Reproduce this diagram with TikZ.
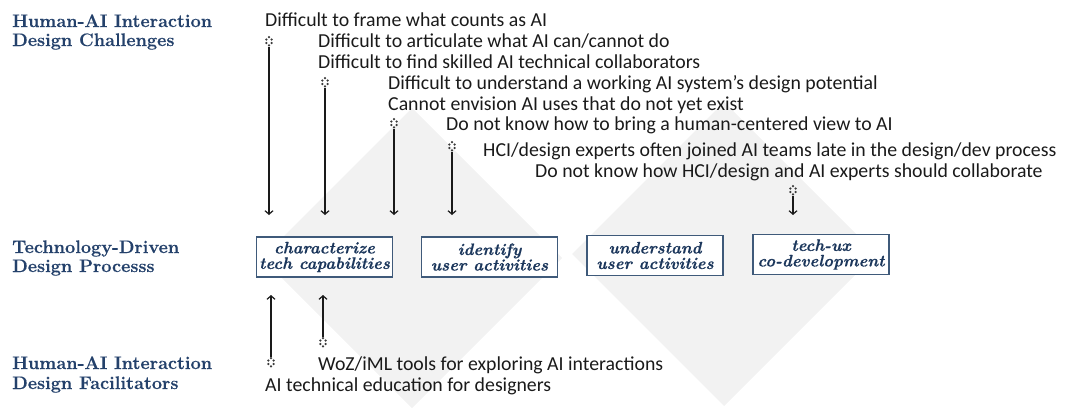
\documentclass[tikz,border=0pt]{standalone}
\usepackage{fontspec}
\newfontfamily\sansf{Carlito}
\newfontfamily\serfb{Latin Modern Roman}[BoldFeatures={FakeBold=0.4},BoldItalicFeatures={FakeBold=0.5}]
\usetikzlibrary{arrows.meta,calc}
\definecolor{headcol}{HTML}{24416B}
\definecolor{boxtext}{HTML}{1C375C}
\definecolor{boxline}{HTML}{3F5A7A}
\definecolor{txtcol}{HTML}{1A1A1A}
\definecolor{dotcol}{HTML}{3A3A3A}
\definecolor{diamcol}{HTML}{F2F2F2}
\begin{document}
\begin{tikzpicture}[x=1pt,y=-1pt,
  head/.style={anchor=base west, inner sep=0, text=headcol, font=\serfb\fontsize{18.1}{19}\selectfont\bfseries},
  item/.style={anchor=base west, inner sep=0, text=txtcol, font=\sansf\fontsize{19.8}{20}\selectfont},
  stage/.style={draw=boxline, line width=1.5pt, fill=white, minimum width=136, minimum height=40, inner sep=0, align=center, text=boxtext, font=\serfb\fontsize{16.6}{15.5}\selectfont\bfseries\itshape},
  marker/.style={minimum size=14, inner sep=0, path picture={
     \foreach \dx/\dy in {0/-4.8, -2.7/-2.5, 2.7/-2.5, -2.7/1.0, 2.7/1.0, 0/3.4}
       \fill[dotcol] ($(path picture bounding box.center)+(\dx,\dy)$) circle (1.25);}},
  arr/.style={draw=txtcol, line width=1.2pt, -{Straight Barb[length=3.5pt,width=8pt,line width=1.2pt]}}]
\useasboundingbox (0,0) rectangle (1065,408);
% background diamonds
\fill[diamcol] (412,108) -- (562,258) -- (412,408) -- (262,258) -- cycle;
\fill[diamcol] (724,102) -- (876,254) -- (724,406) -- (572,254) -- cycle;

% headings
\node[head] (h1a) at (12,27) {Human-AI Interaction};
\node[head] (h1b) at (12,46) {Design Challenges};
\node[head] (h2a) at (12,253) {Technology-Driven};
\node[head] (h2b) at (12,272) {Design Processs};
\node[head] (h3a) at (12,369) {Human-AI Interaction};
\node[head] (h3b) at (12,389) {Design Facilitators};

% challenges
\node[item] (c1) at (265,26) {Difficult to frame what counts as AI};
\node[item] (c2) at (318,47) {Difficult to articulate what AI can/cannot do};
\node[item] (c3) at (318,68) {Difficult to find skilled AI technical collaborators};
\node[item] (c4) at (388,89) {Difficult to understand a working AI system’s design potential};
\node[item] (c5) at (388,110) {Cannot envision AI uses that do not yet exist};
\node[item] (c6) at (446,130) {Do not know how to bring a human-centered view to AI};
\node[item] (c7) at (483,156) {HCI/design experts often joined AI teams late in the design/dev process};
\node[item] (c8) at (535,177) {Do not know how HCI/design and AI experts should collaborate};

% stages
\node[stage] (b1) at (324.5,257) {characterize\\tech capabilities};
\node[stage] (b2) at (489.5,257) {identify\\user activities};
\node[stage] (b3) at (655,255.5) {understand\\user activities};
\node[stage] (b4) at (821,254.5) {tech-ux\\co-development};

% facilitators
\node[item] (f1) at (318,370) {WoZ/iML tools for exploring AI interactions};
\node[item] (f2) at (265,391) {AI technical education for designers};

% markers
\node[marker] (mA) at (269,42) {};
\node[marker] (mB) at (325,83) {};
\node[marker] (mC) at (394,124) {};
\node[marker] (mD) at (452,147) {};
\node[marker] (mE) at (793,191) {};
\node[marker] (fA) at (271,363) {};
\node[marker] (fB) at (323,343) {};

\coordinate (tipD) at (0,215);
\coordinate (tipU) at (0,295);

\draw[arr] ($(mA.center)+(0,5)$) -- (mA |- tipD);
\draw[arr] ($(mB.center)+(0,5)$) -- (mB |- tipD);
\draw[arr] ($(mC.center)+(0,5)$) -- (mC |- tipD);
\draw[arr] ($(mD.center)+(0,5)$) -- (mD |- tipD);
\draw[arr] ($(mE.center)+(0,5)$) -- (mE |- tipD);
\draw[arr] ($(fA.center)+(0,-6)$) -- (fA |- tipU);
\draw[arr] ($(fB.center)+(0,-6)$) -- (fB |- tipU);
\end{tikzpicture}
\end{document}
